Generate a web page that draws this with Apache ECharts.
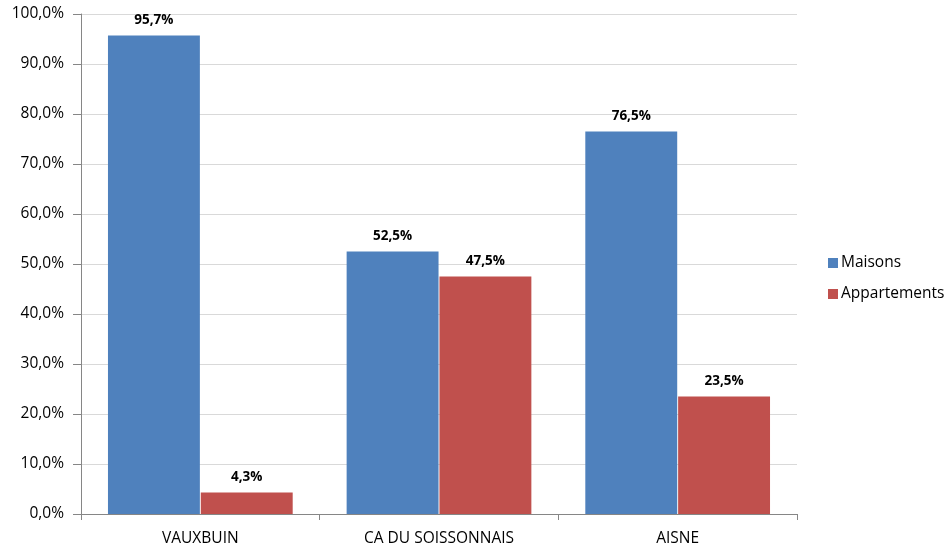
<!DOCTYPE html>
<html>
<head>
<meta charset="utf-8">
<script src="https://cdn.jsdelivr.net/npm/echarts@6/dist/echarts.min.js"></script>
<style>
  html, body { margin: 0; padding: 0; background: #fff; }
  #chart { width: 947px; height: 547px; }
</style>
</head>
<body>
<div id="chart"></div>
<script>
// Type de logement : part des maisons et des appartements
const categories = ['VAUXBUIN', 'CA DU SOISSONNAIS', 'AISNE'];
const maisons = [95.7, 52.5, 76.5];
const appartements = [4.3, 47.5, 23.5];
const seriesNames = ['Maisons', 'Appartements'];

const fmt = v => v.toFixed(1).replace('.', ',') + '%';
const FONT = '"Open Sans", "Liberation Sans", sans-serif';

const chart = echarts.init(document.getElementById('chart'), null, { renderer: 'canvas' });

const labelStyle = {
  show: true,
  position: 'top',
  distance: 8,
  fontFamily: FONT,
  fontSize: 13.5,
  fontWeight: 'bold',
  color: '#000',
  formatter: p => fmt(p.value)
};

chart.setOption({
  animation: false,
  backgroundColor: '#fff',
  textStyle: { fontFamily: FONT },
  grid: { left: 81, right: 150, top: 14, bottom: 33, containLabel: false },
  legend: {
    orient: 'vertical',
    left: 823,
    top: 250,
    itemWidth: 10,
    itemHeight: 10,
    itemGap: 15,
    icon: 'rect',
    textStyle: { fontFamily: FONT, fontSize: 15.5, color: '#000', padding: [0, 0, 0, -2] },
    data: seriesNames
  },
  xAxis: {
    type: 'category',
    data: categories,
    axisLine: { lineStyle: { color: '#868686', width: 1 } },
    axisTick: { show: true, length: 6, lineStyle: { color: '#868686' } },
    axisLabel: { fontFamily: FONT, fontSize: 15.5, color: '#000', margin: 17 }
  },
  yAxis: {
    type: 'value',
    min: 0,
    max: 100,
    interval: 10,
    axisLine: { show: true, lineStyle: { color: '#868686', width: 1 } },
    axisTick: { show: true, length: 8, inside: false, lineStyle: { color: '#868686' } },
    axisLabel: { fontFamily: FONT, fontSize: 15.5, color: '#000', margin: 17, formatter: v => fmt(v) },
    splitLine: { lineStyle: { color: '#D9D9D9', width: 1 } }
  },
  series: [
    {
      name: seriesNames[0],
      type: 'bar',
      data: maisons,
      barCategoryGap: '22.6%',
      barGap: '1%',
      itemStyle: { color: '#4F81BD' },
      label: labelStyle
    },
    {
      name: seriesNames[1],
      type: 'bar',
      data: appartements,
      itemStyle: { color: '#C0504D' },
      label: labelStyle
    }
  ]
});
</script>
</body>
</html>
